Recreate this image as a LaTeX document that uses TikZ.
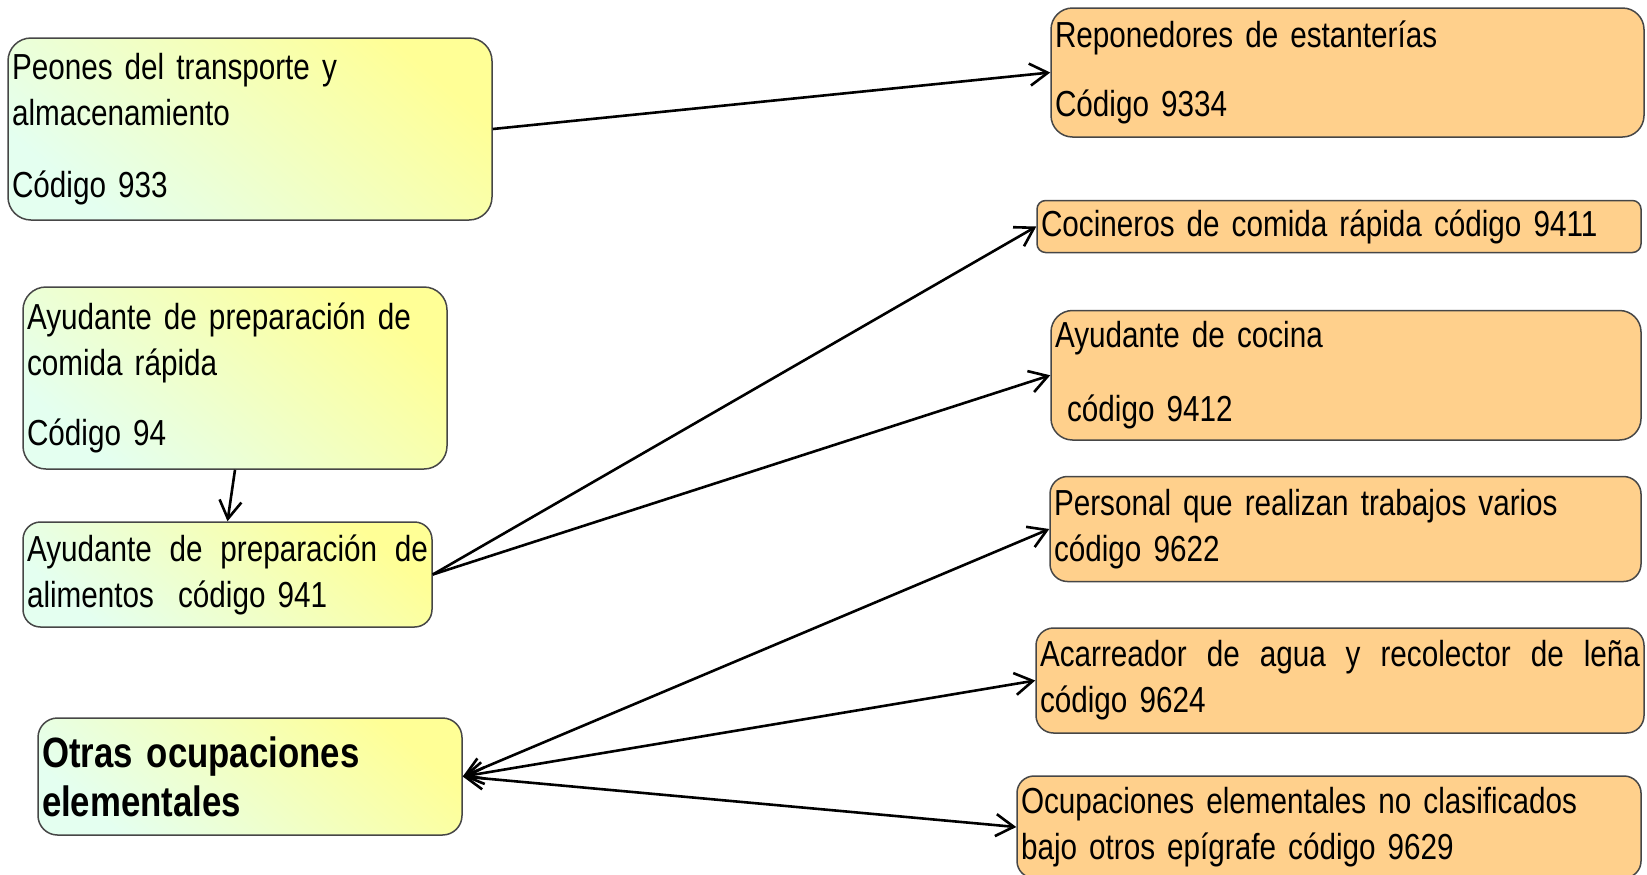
\documentclass[tikz,border=0pt]{standalone}
\usepackage{fontspec}
\setmainfont{Liberation Sans}[FakeStretch=0.82]
\usepackage{tikz}
\usetikzlibrary{arrows.meta}
\definecolor{boxyellow}{RGB}{255,255,150}
\definecolor{boxmint}{RGB}{228,255,240}
\definecolor{boxorange}{RGB}{255,208,140}
\definecolor{boxline}{RGB}{70,70,70}
\begin{document}
\begin{tikzpicture}[x=0.5pt,y=-0.5pt,
  occbox/.style={draw=boxline,line width=0.75pt,inner xsep=2pt,inner ysep=0pt,align=left,
    font=\fontsize{18.1pt}{23pt}\selectfont},
  greenbox/.style={occbox,top color=boxyellow,bottom color=boxmint,shading angle=-40},
  orangebox/.style={occbox,fill=boxorange},
  link/.style={line width=1.3pt,-{Straight Barb[length=9pt,width=11pt]}},
  duallink/.style={line width=1.3pt,{Straight Barb[length=9pt,width=11pt]}-{Straight Barb[length=9pt,width=11pt]}}]
  \useasboundingbox (0,0) rectangle (1647,874);
  \node[greenbox,text width=238pt,minimum height=91pt,rounded corners=11.5pt] (peones) at (250,129)
    {Peones del transporte y\\ almacenamiento\\[13pt] Código 933};
  \node[greenbox,text width=208pt,minimum height=91pt,rounded corners=11.5pt] (comida) at (235,378)
    {Ayudante de preparación de\\ comida rápida\\[12pt] Código 94};
  \node[greenbox,text width=200.5pt,minimum height=52.5pt,rounded corners=8.75pt] (alimentos) at (227.5,574.5)
    {Ayudante\hfill de\hfill preparación\hfill de\\ alimentos\ \ código 941};
  \node[greenbox,text width=208pt,minimum height=58.5pt,rounded corners=9.75pt,
    font=\bfseries\fontsize{21.2pt}{24.5pt}\selectfont] (otras) at (250,776.5)
    {Otras ocupaciones\\ elementales};
  \node[orangebox,text width=292.5pt,minimum height=64.5pt,rounded corners=10.75pt] (reponedores) at (1347.5,72.5)
    {Reponedores de estanterías\\[11.5pt] Código 9334};
  \node[orangebox,text width=298pt,minimum height=26pt,rounded corners=4.3pt] (cocineros) at (1339,226.5)
    {Cocineros de comida rápida código 9411};
  \node[orangebox,text width=291pt,minimum height=64.75pt,rounded corners=10.75pt] (cocina) at (1346,375.25)
    {Ayudante de cocina\\[14pt] \mbox{}\ código 9412};
  \node[orangebox,text width=291.5pt,minimum height=52.5pt,rounded corners=8.75pt] (personal) at (1345.5,529)
    {Personal que realizan trabajos varios\\ código 9622};
  \node[orangebox,text width=300pt,minimum height=52.5pt,rounded corners=8.75pt] (acarreador) at (1340,680.5)
    {Acarreador\hfill de\hfill agua\hfill y\hfill recolector\hfill de\hfill leña\\ código 9624};
  \node[orangebox,text width=308pt,minimum height=51pt,rounded corners=8.5pt] (ocupaciones) at (1329,827)
    {Ocupaciones elementales no clasificados\\ bajo otros epígrafe código 9629};
  \draw[link] (peones.east) -- (reponedores.west);
  \draw[link] (comida.south) -- (alimentos.north);
  \draw[link] (alimentos.east) -- (cocineros.west);
  \draw[link] (alimentos.east) -- (cocina.west);
  \draw[duallink] (otras.east) -- (personal.west);
  \draw[duallink] (otras.east) -- (acarreador.west);
  \draw[duallink] (otras.east) -- (ocupaciones.west);
\end{tikzpicture}
\end{document}
